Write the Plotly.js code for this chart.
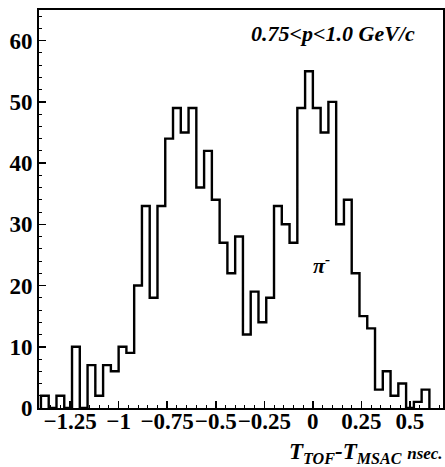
<!DOCTYPE html>
<html>
<head>
<meta charset="utf-8">
<script src="https://cdn.plot.ly/plotly-3.0.1.min.js"></script>
<style>html,body{margin:0;padding:0;background:#fff;}#plot{width:445px;height:467px;}</style>
</head>
<body>
<div id="plot"></div>
<script>
// Histogram: bins of 0.04 ns from -1.40 to 0.60
const binStart = -1.40;
const binWidth = 0.04;
const counts = [2, 0, 2, 0, 10, 0, 7, 2, 7, 6,
                10, 9, 20, 33, 18, 33, 44, 49, 45, 49,
                36, 42, 34, 27, 22, 28, 12, 19, 14, 18,
                33, 30, 27, 49, 55, 49, 45, 50, 30, 34,
                22, 15, 13, 3, 6, 2, 4, 0, 1, 3];
const xTickVals = [-1.25, -1, -0.75, -0.5, -0.25, 0, 0.25, 0.5];
const yTickVals = [0, 10, 20, 30, 40, 50, 60];
const rangeLabel = '0.75<p<1.0 GeV/c';
const particleLabel = 'π<sup>-</sup>';

// step outline
const xs = [binStart], ys = [0];
for (let i = 0; i < counts.length; i++) {
  xs.push(binStart + i * binWidth);
  ys.push(counts[i]);
}
xs.push(binStart + counts.length * binWidth);
ys.push(0);

const serif = 'Liberation Serif, Times New Roman, serif';

const trace = {
  x: xs, y: ys, type: 'scatter', mode: 'lines',
  line: {shape: 'hv', color: '#000', width: 2.4},
  hoverinfo: 'skip', showlegend: false
};

const layout = {
  width: 445, height: 467,
  margin: {l: 39, r: 2, t: 10, b: 59},
  paper_bgcolor: '#fff', plot_bgcolor: '#fff',
  font: {family: serif, color: '#000'},
  xaxis: {
    range: [-1.41, 0.67], showgrid: false, zeroline: false,
    showline: true, linecolor: '#000', linewidth: 2, mirror: true,
    ticks: 'inside', ticklen: 7, tickwidth: 1.5, tickcolor: '#000',
    tickmode: 'array', tickvals: xTickVals, tickangle: 0,
    ticklabelstandoff: -9,
    ticktext: xTickVals.map(v => String(v).replace('-', '\u2212')),
    tickfont: {family: serif, size: 23, color: '#000', weight: 'bold'},
    minor: {dtick: 0.05, ticks: 'inside', ticklen: 3, tickwidth: 1, tickcolor: '#000', showgrid: false}
  },
  yaxis: {
    range: [0, 65], showgrid: false, zeroline: false,
    showline: true, linecolor: '#000', linewidth: 2, mirror: true,
    ticks: 'inside', ticklen: 7, tickwidth: 1.5, tickcolor: '#000',
    tickmode: 'array', tickvals: yTickVals,
    tickfont: {family: serif, size: 23, color: '#000', weight: 'bold'},
    minor: {dtick: 2, ticks: 'inside', ticklen: 3, tickwidth: 1, tickcolor: '#000', showgrid: false}
  },
  annotations: [
    {text: '<b><i>' + rangeLabel + '</i></b>', xref: 'paper', yref: 'paper',
     x: 0.935, y: 0.94, xanchor: 'right', yanchor: 'middle', showarrow: false,
     font: {family: serif, size: 22, color: '#000'}},
    {text: '<b><i>' + particleLabel + '</i></b>', xref: 'x', yref: 'y',
     x: 0.045, y: 23.5, xanchor: 'center', yanchor: 'middle', showarrow: false,
     font: {family: serif, size: 22, color: '#000'}},
    {text: '<b><i>T<sub>TOF</sub>-T<sub>MSAC</sub> <span style="font-size:17px">nsec.</span></i></b>',
     xref: 'paper', yref: 'paper', x: 1.005, y: 0, xanchor: 'right', yanchor: 'top',
     yshift: -29, showarrow: false,
     font: {family: serif, size: 23, color: '#000'}}
  ]
};

Plotly.newPlot('plot', [trace], layout, {displayModeBar: false, staticPlot: true});
</script>
</body>
</html>
